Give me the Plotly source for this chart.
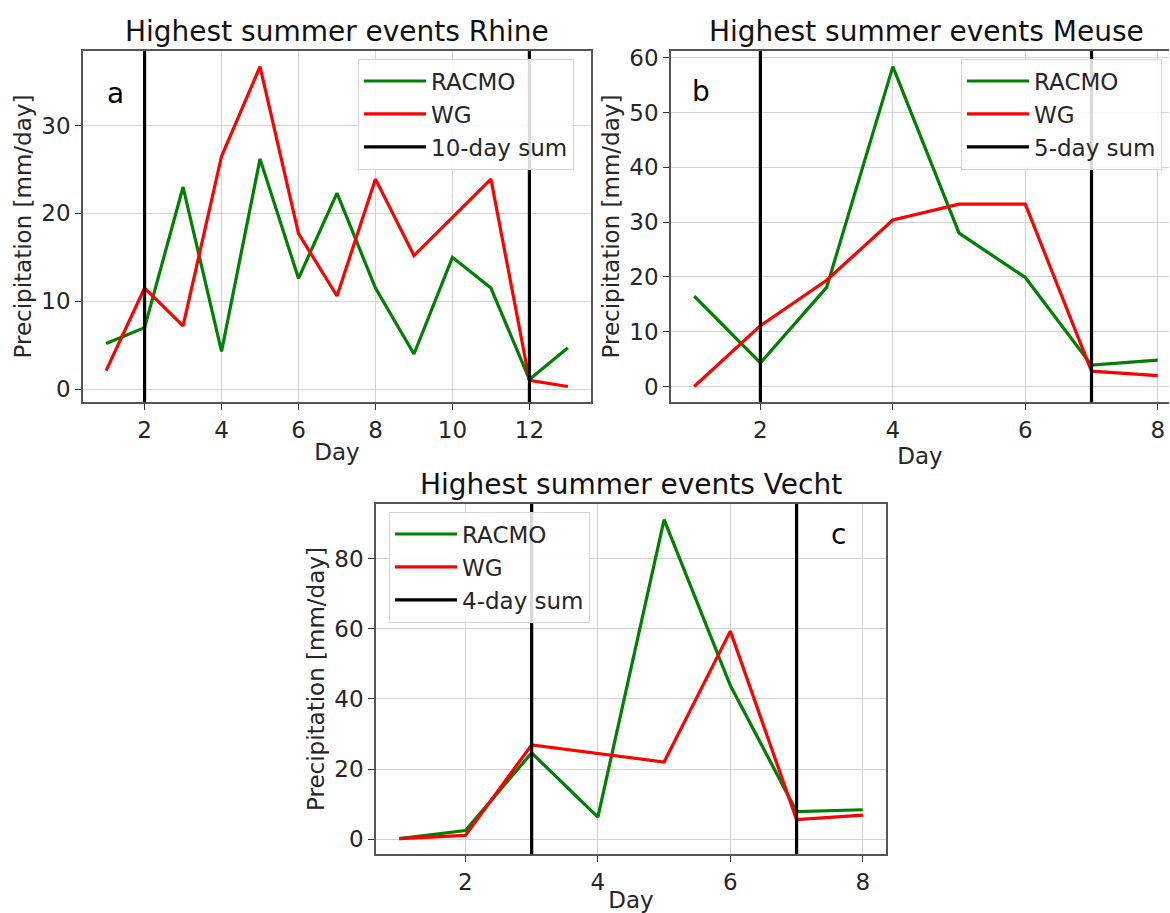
import plotly.graph_objects as go

# ---------------- data ----------------
days_rhine = list(range(1, 14))
racmo_rhine = [5.2, 7.0, 23.0, 4.3, 26.2, 12.6, 22.3, 11.5, 4.0, 15.0, 11.5, 1.1, 4.7]
wg_rhine = [2.1, 11.5, 7.2, 26.5, 36.7, 17.7, 10.6, 23.9, 15.2, 19.5, 23.9, 1.0, 0.3]
sum_rhine_days = [2, 12]

days_meuse = list(range(1, 9))
racmo_meuse = [16.5, 4.3, 18.1, 58.4, 28.0, 19.9, 3.9, 4.8]
wg_meuse = [0.0, 11.1, 19.4, 30.4, 33.3, 33.3, 2.8, 2.0]
sum_meuse_days = [2, 7]

days_vecht = list(range(1, 9))
racmo_vecht = [0.2, 2.5, 24.6, 6.3, 91.1, 43.8, 7.9, 8.4]
wg_vecht = [0.2, 1.1, 26.9, 24.4, 22.0, 59.3, 5.6, 6.9]
sum_vecht_days = [3, 7]

titles = ["Highest summer events Rhine", "Highest summer events Meuse", "Highest summer events Vecht"]
sum_labels = ["10-day sum", "5-day sum", "4-day sum"]
panel_letters = ["a", "b", "c"]

W, H = 1170, 913
FONT = "DejaVu Sans"

def px_x(p):
    return p / W

def px_y(p):
    return 1 - p / H

def rng(vals, m=0.05):
    lo, hi = min(vals), max(vals)
    s = hi - lo
    return [lo - m * s, hi + m * s]

panels = [
    dict(days=days_rhine, r=racmo_rhine, w=wg_rhine, s=sum_rhine_days,
         dom_x=[83, 591], dom_y=[45, 400], leg=(358, 53), letter=(115, 88), title_x=337, title_y=26,
         crop_right=None),
    dict(days=days_meuse, r=racmo_meuse, w=wg_meuse, s=sum_meuse_days,
         dom_x=[671, 1169], dom_y=[45, 400], leg=(961, 53), letter=(701, 86), title_x=926, title_y=26,
         crop_right=8.17),
    dict(days=days_vecht, r=racmo_vecht, w=wg_vecht, s=sum_vecht_days,
         dom_x=[376, 886], dom_y=[502, 856], leg=(389, 510), letter=(838, 533), title_x=631, title_y=483,
         crop_right=None),
]

fig = go.Figure()
layout = dict(
    width=W, height=H, margin=dict(l=0, r=0, t=0, b=0),
    paper_bgcolor="white", plot_bgcolor="white",
    font=dict(family=FONT, size=23, color="#262626"),
    showlegend=True,
)
annotations = []

for i, p in enumerate(panels):
    k = "" if i == 0 else str(i + 1)
    xa, ya = "x" + k, "y" + k
    leg = "legend" + k
    xr = rng(p["days"])
    if p["crop_right"] is not None:
        xr[1] = p["crop_right"]
    yr = rng(p["r"] + p["w"])

    fig.add_trace(go.Scatter(x=p["days"], y=p["r"], mode="lines", name="RACMO",
                             line=dict(color="green", width=3.2), xaxis=xa, yaxis=ya,
                             legend=leg, legendgroup=f"r{i}"))
    fig.add_trace(go.Scatter(x=p["days"], y=p["w"], mode="lines", name="WG",
                             line=dict(color="red", width=3.2), xaxis=xa, yaxis=ya,
                             legend=leg, legendgroup=f"w{i}"))
    vx, vy = [], []
    for d in p["s"]:
        vx += [d, d, None]
        vy += [yr[0], yr[1], None]
    fig.add_trace(go.Scatter(x=vx, y=vy, mode="lines", name=sum_labels[i],
                             line=dict(color="black", width=3.2), xaxis=xa, yaxis=ya,
                             legend=leg, legendgroup=f"s{i}"))

    axkey = "xaxis" + k
    aykey = "yaxis" + k
    layout[axkey] = dict(
        domain=[px_x(p["dom_x"][0]), px_x(p["dom_x"][1])], range=xr, anchor=ya,
        showgrid=True, gridcolor="#d3d3d3", gridwidth=1.2, zeroline=False,
        showline=True, linecolor="#555555", linewidth=1.5, mirror=True,
        ticks="outside", ticklen=6, tickcolor="#333333", dtick=2, tick0=0,
        tickfont=dict(size=23, family=FONT, color="#262626"),
        title=dict(text="Day", font=dict(size=23, family=FONT, color="#262626"), standoff=2),
    )
    layout[aykey] = dict(
        domain=[px_y(p["dom_y"][1]), px_y(p["dom_y"][0])], range=yr, anchor=xa,
        showgrid=True, gridcolor="#d3d3d3", gridwidth=1.2, zeroline=False,
        showline=True, linecolor="#555555", linewidth=1.5,
        mirror=(p["crop_right"] is None),
        ticks="outside", ticklen=6, tickcolor="#333333",
        dtick=20 if i == 2 else 10, tick0=0,
        tickfont=dict(size=23, family=FONT, color="#262626"),
        title=dict(text="Precipitation [mm/day]", font=dict(size=23, family=FONT, color="#262626"), standoff=3),
    )
    layout[leg] = dict(
        x=px_x(p["leg"][0]), y=px_y(p["leg"][1]), xanchor="left", yanchor="top",
        xref="paper", yref="paper",
        bgcolor="rgba(255,255,255,0.85)", bordercolor="#d6d6d6", borderwidth=1,
        font=dict(size=23, family=FONT, color="#262626"),
        itemwidth=62, tracegroupgap=7, traceorder="normal",
    )
    annotations.append(dict(text=titles[i], x=px_x(p["title_x"]), y=px_y(p["title_y"]),
                            xref="paper", yref="paper", xanchor="center", yanchor="middle",
                            showarrow=False, font=dict(size=28, family=FONT, color="#111111")))
    annotations.append(dict(text=panel_letters[i], x=px_x(p["letter"][0]), y=px_y(p["letter"][1]),
                            xref="paper", yref="paper", xanchor="center", yanchor="middle",
                            showarrow=False, font=dict(size=28, family=FONT, color="black")))

layout["annotations"] = annotations
fig.update_layout(**layout)
fig.write_html("out.html")
